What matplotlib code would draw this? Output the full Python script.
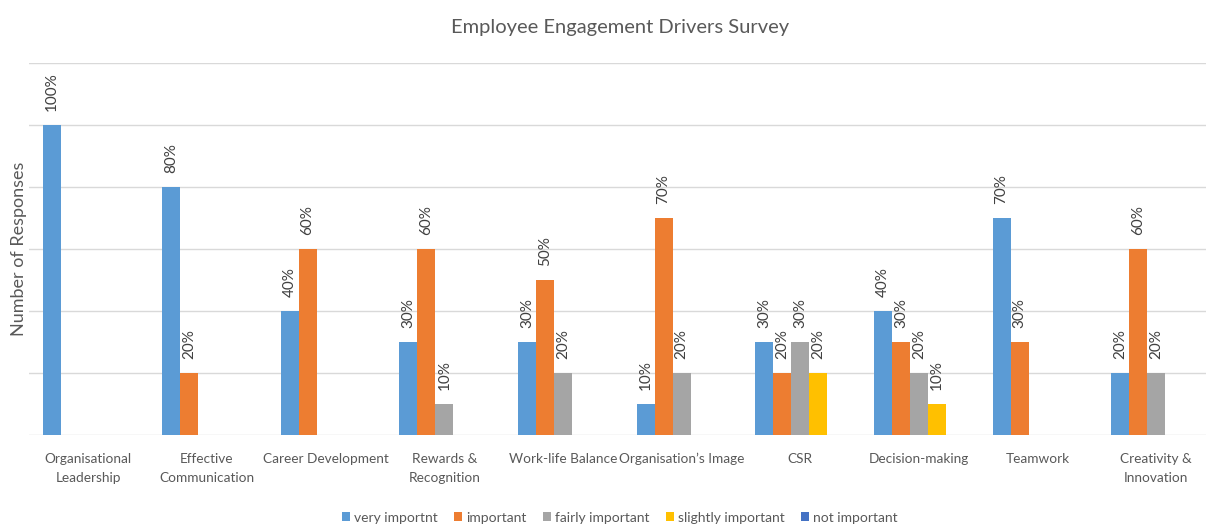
import matplotlib
matplotlib.use("Agg")
import numpy as np
import matplotlib.pyplot as plt

categories = ["Organisational\nLeadership", "Effective\nCommunication", "Career Development",
              "Rewards &\nRecognition", "Work-life Balance", "Organisation\u2019s Image",
              "CSR", "Decision-making", "Teamwork", "Creativity &\nInnovation"]
series_names = ["very importnt", "important", "fairly important", "slightly important", "not important"]
very_important = [100, 80, 40, 30, 30, 10, 30, 40, 70, 20]
important = [0, 20, 60, 60, 50, 70, 20, 30, 30, 60]
fairly_important = [0, 0, 0, 10, 20, 20, 30, 20, 0, 20]
slightly_important = [0, 0, 0, 0, 0, 0, 20, 10, 0, 0]
not_important = [0, 0, 0, 0, 0, 0, 0, 0, 0, 0]
colors = ["#5B9BD5", "#ED7D31", "#A5A5A5", "#FFC000", "#4472C4"]

plt.rcParams["font.family"] = ["Lato", "DejaVu Sans"]
TXT = "#595959"

fig = plt.figure(figsize=(12.06, 5.27), dpi=100)
ax = fig.add_axes([0.024, 0.175, 0.984, 0.706])

x = np.arange(len(categories))
w = 0.152
data = [very_important, important, fairly_important, slightly_important, not_important]
for i, (vals, name, c) in enumerate(zip(data, series_names, colors)):
    pos = x + (i - 2) * w
    bars = ax.bar(pos, vals, width=w, color=c, label=name, zorder=3)
    for b, v in zip(bars, vals):
        if v > 0:
            ax.annotate(f"{v}%", (b.get_x() + b.get_width() / 2, v), xytext=(0, 10),
                        textcoords="offset points", rotation=90, ha="center",
                        va="bottom", fontsize=11, color="#404040")

ax.set_xlim(-0.5, len(categories) - 0.5)
ax.set_ylim(0, 120)
ax.set_yticks(np.arange(0, 121, 20))
ax.set_yticklabels([])
ax.tick_params(axis="y", length=0)
ax.tick_params(axis="x", length=0, pad=13, labelsize=9.8, labelcolor=TXT)
ax.set_xticks(x)
ax.set_xticklabels(categories, linespacing=1.7)
ax.grid(axis="y", color="#D9D9D9", linewidth=1, zorder=0)
for s in ax.spines.values():
    s.set_visible(False)

ax.set_ylabel("Number of Responses", fontsize=13, color=TXT, labelpad=-2)
fig.text(0.514, 0.948, "Employee Engagement Drivers Survey", ha="center", va="center",
         fontsize=14.5, color=TXT)
fig.legend(loc="center", bbox_to_anchor=(0.514, 0.018), ncol=5, frameon=False,
           fontsize=10, handlelength=0.6, handleheight=0.6, handletextpad=0.3,
           columnspacing=1.15, labelcolor=TXT)

fig.savefig("out.png", dpi=100, facecolor="white")
